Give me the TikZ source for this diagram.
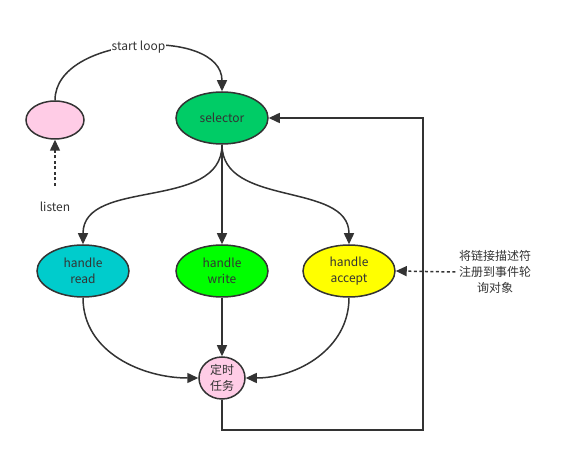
\documentclass[tikz,border=0pt]{standalone}
\usepackage{fontspec}
\setmainfont{Noto Sans CJK SC}
\usetikzlibrary{arrows.meta,positioning,shapes.geometric}
\definecolor{lngray}{RGB}{51,51,51}
\definecolor{lpink}{RGB}{255,204,230}
\definecolor{selgreen}{RGB}{0,204,102}
\definecolor{rdcyan}{RGB}{0,204,204}
\definecolor{wrgreen}{RGB}{0,255,0}
\definecolor{acyellow}{RGB}{255,255,0}

\begin{document}
\begin{tikzpicture}[x=1pt,y=1pt,
  every node/.style={font=\fontsize{12}{16}\selectfont, text=lngray},
  evt/.style={ellipse, draw=lngray, line width=1.5pt, inner sep=0pt, minimum width=92, minimum height=52, align=center},
  flow/.style={draw=lngray, line width=1.5pt, -{Triangle[length=11pt,width=10pt]}},
  hint/.style={flow, dash pattern=on 3pt off 2.5pt}]
  \useasboundingbox (0,0) rectangle (571,453);
  % Event nodes
  \node[evt, fill=lpink, minimum width=58, minimum height=38] (lsn) at (55,333) {};
  \node[evt, fill=selgreen] (sel) at (222,335) {selector};
  \node[evt, fill=rdcyan] (hread) at (83,182) {handle\\read};
  \node[evt, fill=wrgreen] (hwrite) at (222,182) {handle\\write};
  \node[evt, fill=acyellow] (haccept) at (349,182) {handle\\accept};
  \node[evt, fill=lpink, minimum width=46, minimum height=42] (timer) at (222,75) {定时\\任务};
  % Side texts
  \node (listen) at (55,246) {listen};
  \node[align=center] (note) at (495,181) {将链接描述符\\注册到事件轮\\询对象};
  % Start loop
  \draw[flow] (lsn.north) to[out=90,in=90] node[midway, fill=white, inner sep=1pt] {start loop} (sel.north);
  \coordinate (lsnfoot) at (55,267);
  \draw[hint] (lsnfoot) -- (lsn.south);
  % Dispatch
  \draw[flow] (sel.south) to[out=-90,in=90] (hread.north);
  \draw[flow] (sel.south) -- (hwrite.north);
  \draw[flow] (sel.south) to[out=-90,in=90] (haccept.north);
  \draw[flow] (hread.south) to[out=-90,in=180] (timer.west);
  \draw[flow] (hwrite.south) -- (timer.north);
  \draw[flow] (haccept.south) to[out=-90,in=0] (timer.east);
  % Back to selector
  \coordinate (lpa) at (222,23);
  \coordinate (lpb) at (423,23);
  \coordinate (lpc) at (423,335);
  \draw[flow] (timer.south) -- (lpa) -- (lpb) -- (lpc) -- (sel.east);
  \draw[hint] (note.west) -- (haccept.east);
\end{tikzpicture}
\end{document}
